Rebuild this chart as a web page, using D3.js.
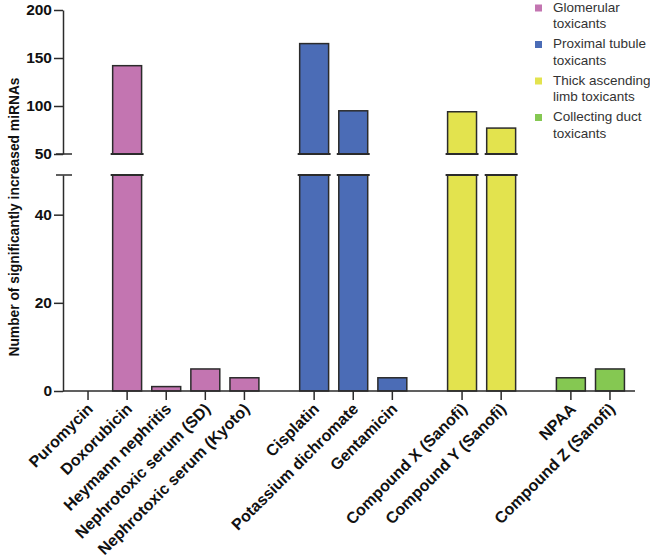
<!DOCTYPE html>
<html><head><meta charset="utf-8">
<script src="https://cdn.jsdelivr.net/npm/d3@7"></script>
<style>body{margin:0;background:#fff}svg{display:block}</style>
</head><body>
<svg id="c" width="650" height="558"></svg>
<script>
const categories = ["Puromycin","Doxorubicin","Heymann nephritis","Nephrotoxic serum (SD)","Nephrotoxic serum (Kyoto)","Cisplatin","Potassium dichromate","Gentamicin","Compound X (Sanofi)","Compound Y (Sanofi)","NPAA","Compound Z (Sanofi)"];
const values = [0,142,1,5,3,165,95,3,94,77,3,5];
const groupOf = [0,0,0,0,0,1,1,1,2,2,3,3];
const groups = ["Glomerular toxicants","Proximal tubule toxicants","Thick ascending limb toxicants","Collecting duct toxicants"];
const legendLines = [["Glomerular","toxicants"],["Proximal tubule","toxicants"],["Thick ascending","limb toxicants"],["Collecting duct","toxicants"]];
const colors = ["#C375B1","#4B6CB6","#E3E34E","#85C852"];
const lowerTicks = [0,20,40];
const upperTicks = [50,100,150,200];
const lowerMax = 49, upperMin = 50, upperMax = 200;

const svg = d3.select("#c");
const ink = "#2b2b2b";
const gapFactor = 0.783, pad = 0.64;
const pos = categories.map((c,i)=> i + groupOf[i]*gapFactor);
const x = d3.scaleLinear().domain([-pad, d3.max(pos)+pad]).range([63,635]);
const step = x(1)-x(0);
const bw = step*0.74;
const yL = d3.scaleLinear().domain([0,lowerMax]).range([391,175]);
const yU = d3.scaleLinear().domain([upperMin,upperMax]).range([154,10]);

// bars
const g = svg.append("g");
categories.forEach((c,i)=>{
  const v = values[i]; if (v<=0) return;
  const cx = x(pos[i]);
  const col = colors[groupOf[i]];
  const lowTop = Math.min(v, lowerMax);
  g.append("rect").attr("x",cx-bw/2).attr("y",yL(lowTop)).attr("width",bw).attr("height",yL(0)-yL(lowTop))
    .attr("fill",col).attr("stroke",ink).attr("stroke-width",1.5);
  if (v>lowerMax){
    g.append("line").attr("x1",cx-bw/2-2).attr("x2",cx+bw/2+2).attr("y1",yL(lowerMax)).attr("y2",yL(lowerMax)).attr("stroke",ink).attr("stroke-width",1.8);
    g.append("rect").attr("x",cx-bw/2).attr("y",yU(v)).attr("width",bw).attr("height",yU(upperMin)-yU(v))
      .attr("fill",col).attr("stroke",ink).attr("stroke-width",1.5);
    g.append("line").attr("x1",cx-bw/2-2).attr("x2",cx+bw/2+2).attr("y1",yU(upperMin)).attr("y2",yU(upperMin)).attr("stroke",ink).attr("stroke-width",1.8);
  }
});

// y axes
const fontTick = "bold 15.5px 'Liberation Sans', Arial, sans-serif";
function yAxis(scale, ticks){
  const a = svg.append("g").attr("transform","translate(63,0)")
    .call(d3.axisLeft(scale).tickValues(ticks).tickSize(9).tickPadding(2).tickSizeOuter(0));
  a.select(".domain").attr("stroke",ink).attr("stroke-width",1.5);
  a.selectAll(".tick line").attr("stroke",ink).attr("stroke-width",1.5);
  a.selectAll(".tick text").attr("fill","#111").style("font",fontTick);
  return a;
}
yAxis(yL, lowerTicks);
yAxis(yU, upperTicks);
// break caps on axis
[yL(lowerMax), yU(upperMin)].forEach(yy=>{
  svg.append("line").attr("x1",56).attr("x2",72).attr("y1",yy).attr("y2",yy).attr("stroke",ink).attr("stroke-width",1.5);
});

// x axis
svg.append("line").attr("x1",63).attr("x2",635).attr("y1",yL(0)).attr("y2",yL(0)).attr("stroke",ink).attr("stroke-width",1.5);
categories.forEach((c,i)=>{
  const cx = x(pos[i]);
  svg.append("line").attr("x1",cx).attr("x2",cx).attr("y1",yL(0)).attr("y2",yL(0)+9).attr("stroke",ink).attr("stroke-width",1.5);
  svg.append("text").attr("transform",`translate(${cx+3},${yL(0)+16}) rotate(-45)`)
    .attr("text-anchor","end").attr("dominant-baseline","middle")
    .style("font","bold 16px 'Liberation Sans', Arial, sans-serif").attr("fill","#111").text(c);
});

// y label
svg.append("text").attr("transform","translate(15,217) rotate(-90)").attr("text-anchor","middle")
  .attr("dominant-baseline","middle")
  .style("font","bold 13.8px 'Liberation Sans', Arial, sans-serif").attr("fill","#111")
  .text("Number of significantly increased miRNAs");

// legend
const lg = svg.append("g");
groups.forEach((gname,k)=>{
  const y0 = 8 + k*36.5;
  lg.append("rect").attr("x",535).attr("y",y0-3.5).attr("width",7).attr("height",7).attr("fill",colors[k]);
  legendLines[k].forEach((ln,j)=>{
    lg.append("text").attr("x",553).attr("y",y0+j*16.5).attr("dominant-baseline","middle")
      .style("font","13.5px 'Liberation Sans', Arial, sans-serif").attr("fill","#333").text(ln);
  });
});
</script>
</body></html>
